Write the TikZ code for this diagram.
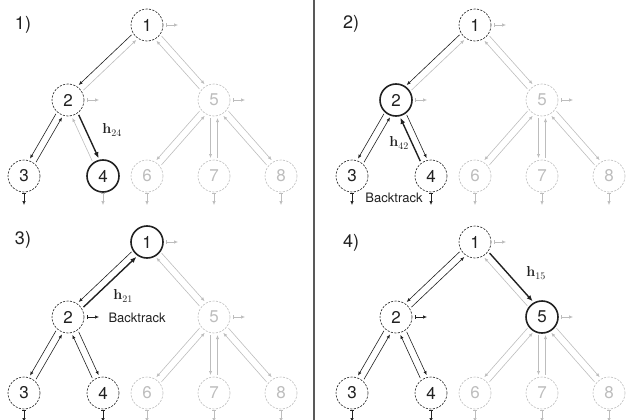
\documentclass[tikz,border=0pt]{standalone}
\usepackage[no-math]{fontspec}
\setmainfont{TeX Gyre Heros}
\usetikzlibrary{calc,arrows.meta}

\definecolor{ink}{gray}{0.13}
\definecolor{faint}{gray}{0.74}
\definecolor{rule}{gray}{0.35}

\tikzset{
  vtx/.style={circle, minimum size=32pt, inner sep=0pt, font=\fontsize{17}{17}\selectfont},
  nOn/.style={vtx, draw=ink, text=ink, line width=0.6pt, dash pattern=on 2.2pt off 1.3pt},
  nOff/.style={vtx, draw=faint, text=faint, line width=0.6pt, dash pattern=on 2.2pt off 1.3pt},
  nHot/.style={vtx, draw=ink, text=ink, line width=1.6pt},
  eOn/.style={draw=ink, line width=0.6pt, >={Latex[length=4pt,width=3.2pt]}},
  eOff/.style={draw=faint, line width=0.6pt, >={Latex[length=4pt,width=3.2pt]}},
  eHot/.style={draw=ink, line width=1.4pt, >={Latex[length=6pt,width=5pt]}},
  stubtip/.style={arrows={Bar[width=3.5pt]-Latex[length=4pt,width=3.4pt]}},
  plabel/.style={font=\fontsize{18}{18}\selectfont, text=ink},
  elabel/.style={font=\fontsize{14}{14}\selectfont, text=ink},
  note/.style={font=\fontsize{13}{13}\selectfont, text=ink},
}

% the eight vertices of one tree; #1 = name prefix, #2..#9 = vertex styles
\newcommand\placenodes[9]{%
  \node[#2] (#11) at (147,25) {1};
  \node[#3] (#12) at (68,100) {2};
  \node[#4] (#13) at (24,176) {3};
  \node[#5] (#14) at (103,176) {4};
  \node[#6] (#15) at (214,100) {5};
  \node[#7] (#16) at (147,176) {6};
  \node[#8] (#17) at (214,176) {7};
  \node[#9] (#18) at (281,176) {8};
}

% pair of parallel messages between parent #3 and child #4:
% #1 = style of the downward one (outer side), #2 = style of the upward one,
% #5 = side of the outer line (-90 left, 90 right)
\newcommand\duo[5]{%
  \path ($(#3)!3.5pt!#5:(#4)$) coordinate (u1)
        ($(u1)+(#4)-(#3)$) coordinate (u2)
        ($(#3)!-3.5pt!#5:(#4)$) coordinate (w1)
        ($(w1)+(#4)-(#3)$) coordinate (w2);
  \draw[#1,->] ($(u1)!18pt!(u2)$) -- ($(u2)!18pt!(u1)$);
  \draw[#2,<-] ($(w1)!18pt!(w2)$) -- ($(w2)!18pt!(w1)$);
}

% short output arrows: to the right of an inner vertex, below a leaf
\newcommand\rstub[2]{\draw[#1,stubtip] ([xshift=19pt]#2.center) -- ([xshift=31pt]#2.center);}
\newcommand\bstub[2]{\draw[#1,stubtip] ([yshift=-17pt]#2.center) -- ([yshift=-29pt]#2.center);}

% the untouched right subtree
\newcommand\restfive[1]{%
  \duo{eOff}{eOff}{#11}{#15}{90}
  \duo{eOff}{eOff}{#15}{#16}{-90}
  \duo{eOff}{eOff}{#15}{#17}{-90}
  \duo{eOff}{eOff}{#15}{#18}{90}
  \rstub{eOff}{#11}
  \rstub{eOff}{#15}
  \bstub{eOff}{#16}
  \bstub{eOff}{#17}
  \bstub{eOff}{#18}
}

\begin{document}
\begin{tikzpicture}[x=1pt, y=-1pt]
\useasboundingbox (0,0) rectangle (626,420);

% separator between the two columns
\draw[rule, line width=1.1pt] (314,0) -- (314,420);

% ---------- step 1: message h24 ----------
\begin{scope}
  \node[plabel] (l1) at (23,25) {1)};
  \placenodes{a}{nOn}{nOn}{nOn}{nHot}{nOff}{nOff}{nOff}{nOff}
  \duo{eOn}{eOff}{a1}{a2}{-90}
  \duo{eOn}{eOn}{a2}{a3}{-90}
  \duo{eHot}{eOff}{a2}{a4}{90}
  \restfive{a}
  \rstub{eOff}{a2}
  \bstub{eOn}{a3}
  \bstub{eOff}{a4}
  \node[elabel] (ha) at (112,130) {$\mathbf{h}_{24}$};
\end{scope}

% ---------- step 2: message h42 ----------
\begin{scope}[shift={(328,0)}]
  \node[plabel] (l2) at (23,24) {2)};
  \placenodes{b}{nOn}{nHot}{nOn}{nOn}{nOff}{nOff}{nOff}{nOff}
  \duo{eOn}{eOff}{b1}{b2}{-90}
  \duo{eOn}{eOn}{b2}{b3}{-90}
  \duo{eOn}{eHot}{b2}{b4}{90}
  \restfive{b}
  \rstub{eOff}{b2}
  \bstub{eOn}{b3}
  \bstub{eOn}{b4}
  \node[elabel] (hb) at (71,143) {$\mathbf{h}_{42}$};
  \node[note] (bt2) at (66,198) {Backtrack};
\end{scope}

% ---------- step 3: message h21 ----------
\begin{scope}[shift={(0,217)}]
  \node[plabel] (l3) at (23,23) {3)};
  \placenodes{c}{nHot}{nOn}{nOn}{nOn}{nOff}{nOff}{nOff}{nOff}
  \duo{eOn}{eHot}{c1}{c2}{-90}
  \duo{eOn}{eOn}{c2}{c3}{-90}
  \duo{eOn}{eOn}{c2}{c4}{90}
  \restfive{c}
  \rstub{eOn}{c2}
  \bstub{eOn}{c3}
  \bstub{eOn}{c4}
  \node[elabel] (hc) at (123,79) {$\mathbf{h}_{21}$};
  \node[note, anchor=west] (bt3) at (105,101) {Backtrack};
\end{scope}

% ---------- step 4: message h15 ----------
\begin{scope}[shift={(328,217)}]
  \node[plabel] (l4) at (23,26) {4)};
  \placenodes{d}{nOn}{nOn}{nOn}{nOn}{nHot}{nOff}{nOff}{nOff}
  \duo{eOn}{eOn}{d1}{d2}{-90}
  \duo{eOn}{eOn}{d2}{d3}{-90}
  \duo{eOn}{eOn}{d2}{d4}{90}
  \duo{eOff}{eOff}{d5}{d6}{-90}
  \duo{eOff}{eOff}{d5}{d7}{-90}
  \duo{eOff}{eOff}{d5}{d8}{90}
  \duo{eHot}{eOff}{d1}{d5}{90}
  \rstub{eOff}{d1}
  \rstub{eOn}{d2}
  \rstub{eOff}{d5}
  \bstub{eOn}{d3}
  \bstub{eOn}{d4}
  \bstub{eOff}{d6}
  \bstub{eOff}{d7}
  \bstub{eOff}{d8}
  \node[elabel] (hd) at (208,56) {$\mathbf{h}_{15}$};
\end{scope}
\end{tikzpicture}
\end{document}
